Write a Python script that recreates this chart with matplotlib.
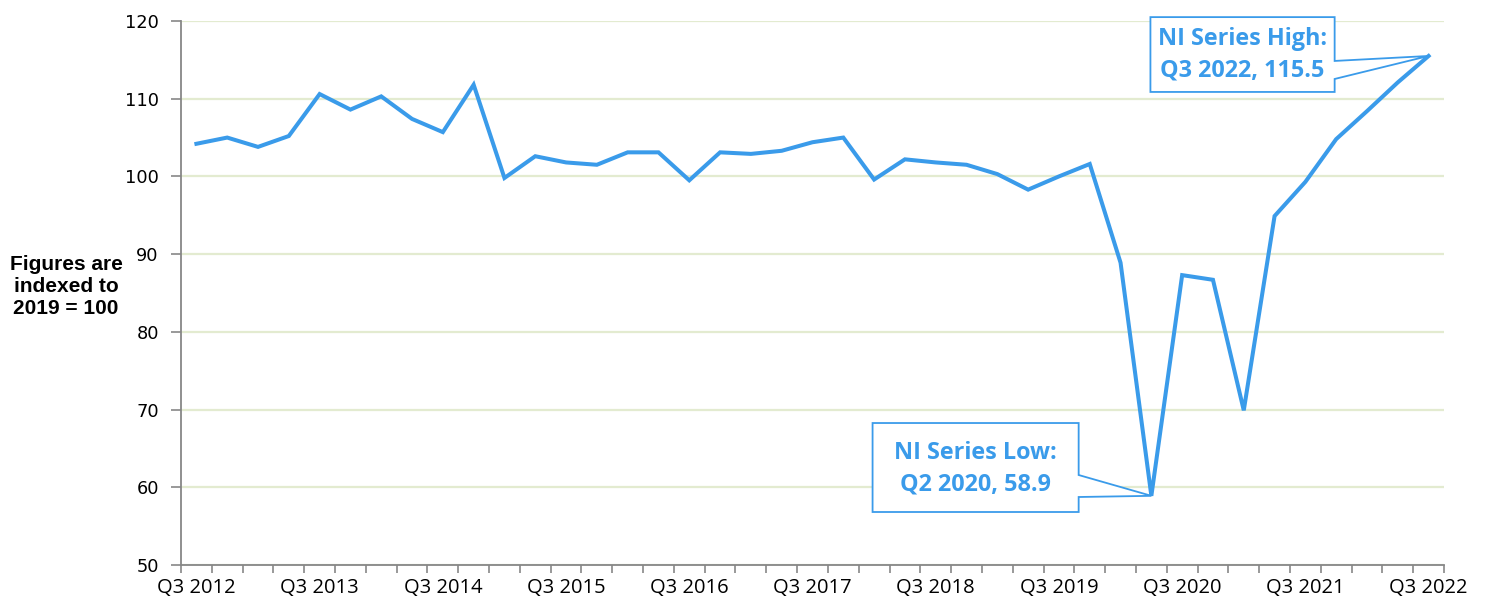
import matplotlib
matplotlib.use("Agg")
import matplotlib.pyplot as plt
from matplotlib.patches import Polygon
from matplotlib.ticker import FixedLocator, NullFormatter

# ---- data ----
quarters = []
for y in range(2012, 2023):
    for q in (1, 2, 3, 4):
        if (y == 2012 and q < 3) or (y == 2022 and q > 3):
            continue
        quarters.append(f"Q{q} {y}")

values = [104.2, 105.0, 103.8, 105.2, 110.6, 108.6, 110.3, 107.4, 105.7, 111.8,
          99.8, 102.6, 101.8, 101.5, 103.1, 103.1, 99.5, 103.1, 102.9, 103.3,
          104.4, 105.0, 99.6, 102.2, 101.8, 101.5, 100.3, 98.3, 100.0, 101.6,
          88.9, 58.9, 87.3, 86.7, 69.9, 94.9, 99.3, 104.8, 108.4, 112.1, 115.5]

tick_labels = [q for q in quarters if q.startswith("Q3")]
y_ticks = [50, 60, 70, 80, 90, 100, 110, 120]
ylabel_text = "Figures are\nindexed to\n2019 = 100"
high_text = "NI Series High:\nQ3 2022, 115.5"
low_text = "NI Series Low:\nQ2 2020, 58.9"

# ---- style ----
BLUE = "#3A9BEA"
GRID = "#E3EBD0"
AXIS = "#878787"

fig = plt.figure(figsize=(14.85, 6.08), dpi=100)
ax = fig.add_axes([181 / 1485, 1 - 565 / 608, (1444 - 181) / 1485, (565 - 21) / 608])

x = list(range(len(values)))
ax.plot(x, values, color=BLUE, lw=2.9, solid_joinstyle="miter", zorder=3, clip_on=False)

ax.set_xlim(-0.5, len(values) - 0.5)
ax.set_ylim(50, 120)

# x ticks: marks between categories, labels under each Q3
ax.xaxis.set_major_locator(FixedLocator([i - 0.5 for i in range(len(values) + 1)]))
ax.xaxis.set_major_formatter(NullFormatter())
label_pos = [i for i, q in enumerate(quarters) if q.startswith("Q3")]
ax.xaxis.set_minor_locator(FixedLocator(label_pos))
ax.set_xticklabels(tick_labels, minor=True)
ax.tick_params(axis="x", which="major", length=6, width=1.2, color=AXIS, direction="out")
ax.tick_params(axis="x", which="minor", length=0, pad=9, labelsize=14.5)
for t in ax.get_xticklabels(minor=True):
    t.set_fontfamily("Open Sans")

ax.set_yticks(y_ticks)
ax.tick_params(axis="y", length=7, width=1.2, color=AXIS, direction="out", pad=9, labelsize=12.8)
for t in ax.get_yticklabels():
    t.set_fontfamily("DejaVu Sans")

ax.grid(axis="y", color=GRID, lw=1.6, zorder=0)
ax.set_axisbelow(True)
for s in ("top", "right"):
    ax.spines[s].set_visible(False)
for s in ("left", "bottom"):
    ax.spines[s].set_color(AXIS)
    ax.spines[s].set_linewidth(1.3)
    ax.spines[s].set_zorder(4)

fig.text(66 / 1485, 1 - 286 / 608, ylabel_text, ha="center", va="center",
         fontsize=15, fontweight="bold", family="Liberation Sans", linespacing=1.2)

# ---- callouts ----
hi_i = values.index(max(values))
lo_i = values.index(min(values))

hi_poly = [(30.97, 120.5), (36.95, 120.5), (36.95, 114.86), (hi_i, values[hi_i]),
           (36.95, 112.54), (36.95, 110.87), (30.97, 110.87)]
lo_poly = [(21.95, 68.27), (28.64, 68.27), (28.64, 61.58), (lo_i, values[lo_i]),
           (28.64, 58.75), (28.64, 56.82), (21.95, 56.82)]
for poly in (hi_poly, lo_poly):
    ax.add_patch(Polygon(poly, closed=True, facecolor="white", edgecolor=BLUE,
                         lw=1.3, zorder=5, clip_on=False, joinstyle="miter"))

ax.text(33.96, 115.6, high_text, ha="center", va="center", color=BLUE,
        fontsize=16.8, fontweight="bold", family="Open Sans", linespacing=1.42, zorder=6)
ax.text(25.3, 62.4, low_text, ha="center", va="center", color=BLUE,
        fontsize=16.8, fontweight="bold", family="Open Sans", linespacing=1.42, zorder=6)

fig.savefig("out.png", dpi=100)
